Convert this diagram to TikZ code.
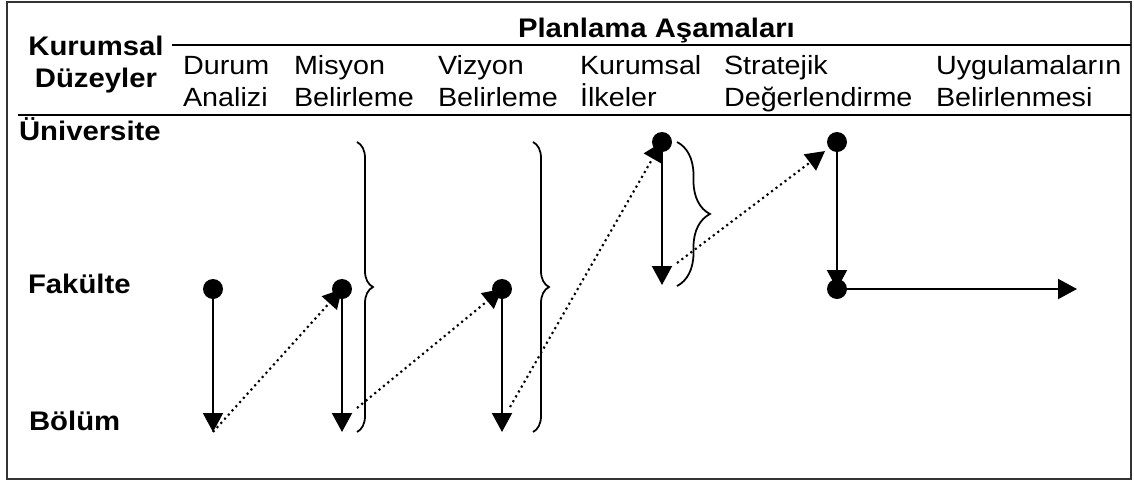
\documentclass[tikz,border=0pt]{standalone}
\usepackage{fontspec}
\setmainfont[FakeStretch=1.09]{Liberation Sans}
\usetikzlibrary{arrows.meta,decorations.pathreplacing}

\begin{document}
\begin{tikzpicture}[x=0.02cm,y=-0.02cm,line width=1.2pt,
  >={Triangle[width=0.4cm,length=0.38cm]},
  dot/.style={circle,fill,inner sep=0pt,minimum size=0.4cm},
  lbl/.style={anchor=base west,inner sep=0pt,align=left,font=\fontsize{15}{18}\selectfont},
  blbl/.style={lbl,font=\fontsize{15.3}{18}\selectfont\bfseries},
  br/.style={decorate,decoration={brace,amplitude=#1},line width=1pt}]
  \useasboundingbox (0,0) rectangle (1134,481);
  \draw[black!80,line width=0.9pt] (7,2) rectangle (1131,479);

  % table head
  \node[blbl] (pa) at (517,37) {Planlama Aşamaları};
  \node[blbl,anchor=base,align=center] (kd) at (96,87) {Kurumsal\\Düzeyler};
  \draw[line width=1.4pt] (172,45) -- (1131,45);
  \draw[line width=1.4pt] (18,115) -- (1131,115);
  \node[lbl] (h_1) at (182,106) {Durum\\Analizi};
  \node[lbl] (h_2) at (293,106) {Misyon\\Belirleme};
  \node[lbl] (h_3) at (437,106) {Vizyon\\Belirleme};
  \node[lbl] (h_4) at (579,106) {Kurumsal\\İlkeler};
  \node[lbl] (h_5) at (723,106) {Stratejik\\Değerlendirme};
  \node[lbl] (h_6) at (935,106) {Uygulamaların\\Belirlenmesi};

  % levels
  \node[blbl] (uni) at (18,140) {Üniversite};
  \node[blbl] (fak) at (27,293) {Fakülte};
  \node[blbl] (bol) at (28,430) {Bölüm};

  \coordinate (c_1f) at (213,289); \coordinate (c_1b) at (213,432);
  \coordinate (c_2f) at (342,289); \coordinate (c_2b) at (342,432);
  \coordinate (c_3f) at (502,289); \coordinate (c_3b) at (502,432);
  \coordinate (c_4u) at (662,142); \coordinate (c_4f) at (662,285);
  \coordinate (c_5u) at (837,142); \coordinate (c_5f) at (837,289);
  \coordinate (c_6f) at (1077,289);
  \coordinate (s_2) at (357,408);
  \coordinate (s_3) at (510,407);
  \coordinate (s_4) at (677,263);

  \draw[br=0.32cm] (357,142) -- (357,432);
  \draw[br=0.32cm] (533,142) -- (533,432);
  \draw[br=0.66cm] (677,142) -- (677,286);

  \path[->] (c_1f) edge (c_1b)
    (c_2f) edge (c_2b)
    (c_3f) edge (c_3b)
    (c_4u) edge (c_4f)
    (c_5u) edge (c_5f)
    (c_5f) edge (c_6f);
  \path[->,dotted] (c_1b) edge (c_2f)
    (s_2) edge (c_3f)
    (s_3) edge (c_4u)
    (s_4) edge[shorten >=0.3cm] (c_5u);

  \foreach \p in {c_1f,c_2f,c_3f,c_4u,c_5u,c_5f}
    \node[dot] at (\p) {};
\end{tikzpicture}
\end{document}
